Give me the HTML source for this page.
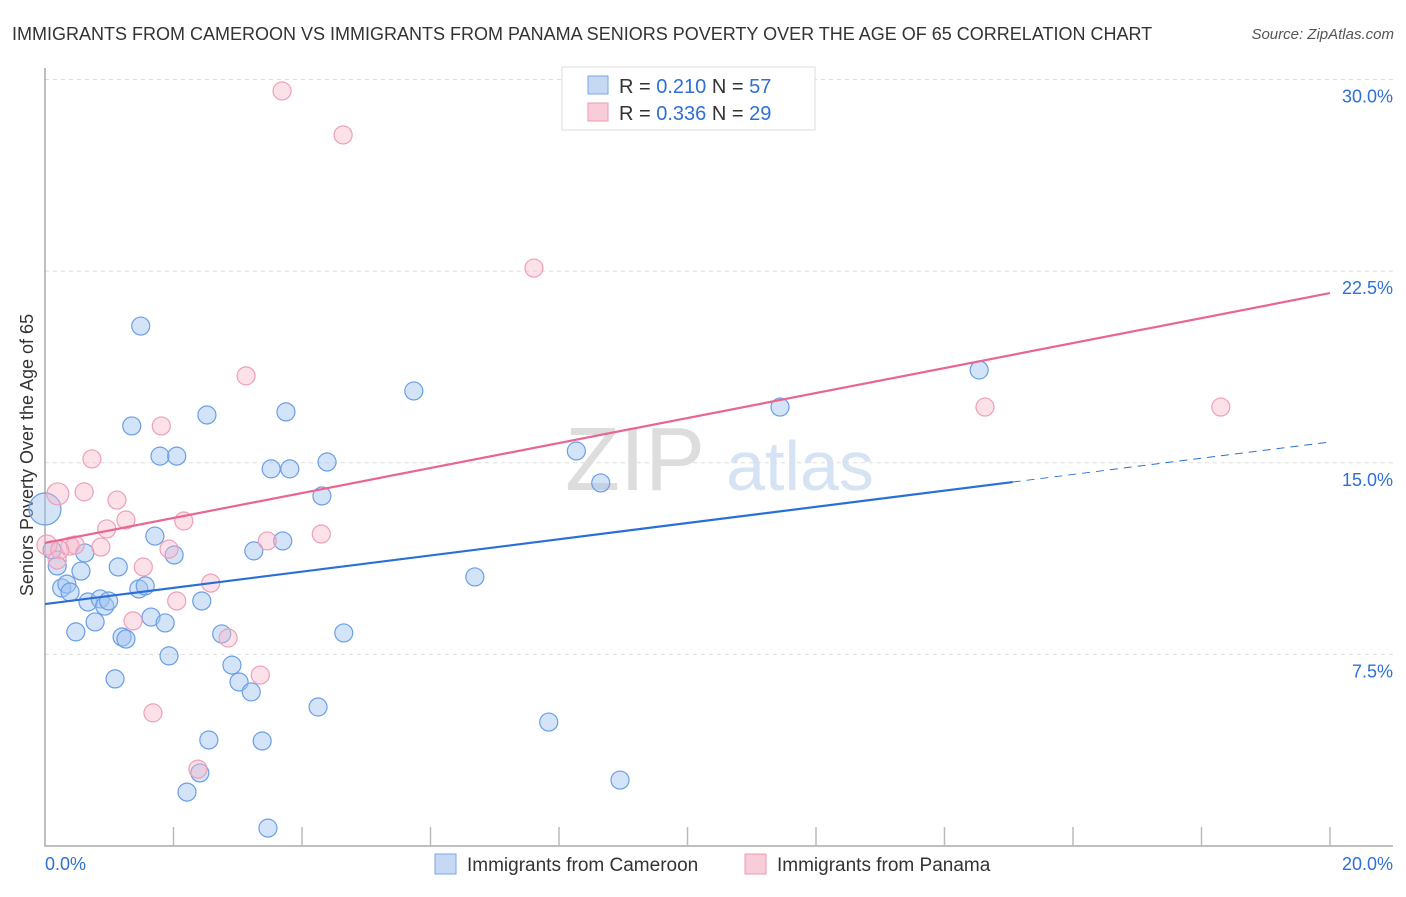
<!DOCTYPE html>
<html><head><meta charset="utf-8"><style>
body{margin:0;background:#fff;font-family:"Liberation Sans",sans-serif;}
svg text{font-family:"Liberation Sans",sans-serif;}
</style></head><body>
<svg id="c" width="1406" height="892">
<text x="12" y="40" font-size="18" fill="#333">IMMIGRANTS FROM CAMEROON VS IMMIGRANTS FROM PANAMA SENIORS POVERTY OVER THE AGE OF 65 CORRELATION CHART</text>
<text x="1394" y="39" font-size="15" fill="#555" font-style="italic" text-anchor="end">Source: ZipAtlas.com</text>
<text x="635" y="490" font-size="90" fill="#ddd" font-family="Liberation Serif" text-anchor="middle">ZIP</text>
<text x="800" y="490" font-size="70" fill="#d5e3f5" text-anchor="middle">atlas</text>
<text transform="translate(33,455) rotate(-90)" font-size="18" fill="#333" text-anchor="middle">Seniors Poverty Over the Age of 65</text>
<g id="grid"></g><g id="marks"></g><g id="lines"></g>
<g>
<rect x="562" y="67" width="253" height="63" fill="#fff" stroke="#ddd"/>
<rect x="588" y="76" width="20" height="18" fill="#c5d9f5" stroke="#7aa6e6"/>
<rect x="588" y="103" width="20" height="18" fill="#f9ccd9" stroke="#ee9ab2"/>
<text x="619" y="93" font-size="20" fill="#333">R = <tspan fill="#2f6fd6">0.210</tspan>   N = <tspan fill="#2f6fd6">57</tspan></text>
<text x="619" y="120" font-size="20" fill="#333">R = <tspan fill="#2f6fd6">0.336</tspan>   N = <tspan fill="#2f6fd6">29</tspan></text>
</g>
<g>
<rect x="435" y="854" width="21" height="20" fill="#c5d9f5" stroke="#7aa6e6"/>
<text x="467" y="871" font-size="19" fill="#333">Immigrants from Cameroon</text>
<rect x="745" y="854" width="21" height="20" fill="#f9ccd9" stroke="#ee9ab2"/>
<text x="777" y="871" font-size="19" fill="#333">Immigrants from Panama</text>
</g>
</svg>
<script>
const yTicks=[7.5,15,22.5,30];
const yTickLabels=["7.5%","15.0%","22.5%","30.0%"];
const xTickLabels=["0.0%","20.0%"];
const cameroonX=[0,0.11,0.19,0.26,0.34,0.39,0.48,0.56,0.62,0.67,0.78,0.86,0.93,0.99,1.09,1.14,1.20,1.26,1.35,1.46,1.49,1.56,1.65,1.71,1.79,1.87,1.93,2.01,2.05,2.21,2.41,2.44,2.52,2.55,2.75,2.91,3.02,3.21,3.25,3.38,3.47,3.52,3.70,3.75,3.81,4.25,4.31,4.39,4.65,5.74,6.69,7.84,8.27,8.65,8.95,11.44,14.54];
const cameroonY=[13.19,11.59,10.96,10.10,10.25,9.94,8.38,10.76,11.47,9.55,8.77,9.67,9.39,9.59,6.54,10.92,8.18,8.10,16.44,10.06,20.35,10.18,8.96,12.13,15.26,8.73,7.44,11.39,15.26,2.11,2.86,9.59,16.87,4.15,8.30,7.08,6.42,6.03,11.55,4.11,0.70,14.76,11.94,16.99,14.76,5.44,13.70,15.03,8.34,17.81,10.53,4.85,15.46,14.21,2.58,17.18,18.63];
const panamaX=[3.69,4.64,7.61,0.20,0.61,0.73,1.12,1.26,0.96,0.87,0.39,0.47,0.03,0.23,0.19,1.53,1.81,1.93,2.16,2.05,1.37,1.68,2.58,2.85,2.38,3.13,3.35,3.46,4.30,14.63,18.30];
const panamaY=[29.55,27.83,22.62,13.78,13.86,15.15,13.54,12.76,12.41,11.70,11.74,11.78,11.78,11.59,11.19,10.92,16.44,11.62,12.72,9.59,8.81,5.21,10.29,8.14,3.01,18.40,6.69,11.94,12.21,17.18,17.18];
const cameroonTrend=[9.47,15.81];
const panamaTrend=[11.86,21.64];
const NS='http://www.w3.org/2000/svg';
const X=v=>45+v*64.25, Y=v=>846-v*25.55;
function mk(tag,attrs,parent){const e=document.createElementNS(NS,tag);for(const k in attrs)e.setAttribute(k,attrs[k]);parent.appendChild(e);return e;}
const grid=document.getElementById('grid'),marks=document.getElementById('marks'),lines=document.getElementById('lines');
yTicks.forEach((t,i)=>{
 const g=mk('line',{x1:45,x2:1393,y1:Y(t),y2:Y(t),stroke:'#ddd','stroke-dasharray':'4,4'},grid);
 
 
 const l=mk('text',{x:1393,y:Y(t)+23,'font-size':18,fill:'#2f6fd6','text-anchor':'end'},grid);
 l.textContent=yTickLabels[i];
 
 
});
const ax=mk('path',{d:'M45,68V846H1393',stroke:'#aaa',fill:'none','stroke-width':1.5},grid);


for(let i=1;i<=10;i++){const t=mk('line',{x1:45+i*128.5,x2:45+i*128.5,y1:827,y2:846,stroke:'#bbb','stroke-width':1.5},grid);
 
 }
[[0,'start',45],[20,'end',1393]].forEach((a,i)=>{const l=mk('text',{x:a[2],y:870,'font-size':18,fill:'#2f6fd6','text-anchor':a[1]},grid);l.textContent=xTickLabels[i];
 
 });
cameroonX.forEach((x,i)=>{const c=mk('circle',{cx:X(x),cy:Y(cameroonY[i]),r:i==0?16:9,fill:'rgba(160,195,240,0.45)',stroke:'#6a9ee6','stroke-width':1.2},marks);
 
 });
panamaX.forEach((x,i)=>{const c=mk('circle',{cx:X(x),cy:Y(panamaY[i]),r:i==3?11:(i==12?10:9),fill:'rgba(248,180,200,0.4)',stroke:'#ef9fb7','stroke-width':1.2},marks);
 
 });
const bAt=v=>cameroonTrend[0]+(cameroonTrend[1]-cameroonTrend[0])*v/20;
let l1=mk('line',{x1:X(0),y1:Y(bAt(0)),x2:X(15.06),y2:Y(bAt(15.06)),stroke:'#2a6fd8','stroke-width':2.2},lines);


let l2=mk('line',{x1:X(15.06),y1:Y(bAt(15.06)),x2:X(20),y2:Y(bAt(20)),stroke:'#2a6fd8','stroke-width':1,'stroke-dasharray':'8,6'},lines);


let l3=mk('line',{x1:X(0),y1:Y(panamaTrend[0]),x2:X(20),y2:Y(panamaTrend[1]),stroke:'#e8668f','stroke-width':2.2},lines);


</script>
</body></html>
